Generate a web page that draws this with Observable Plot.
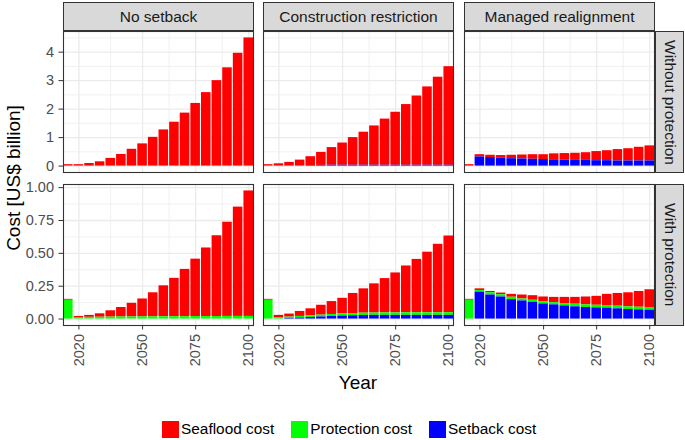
<!DOCTYPE html>
<html>
<head>
<meta charset="utf-8">
<script src="https://cdn.jsdelivr.net/npm/d3@7"></script>
<script src="https://cdn.jsdelivr.net/npm/@observablehq/plot@0.6"></script>
<style>
  html, body { margin: 0; padding: 0; background: #ffffff; }
  #chart { position: relative; width: 685px; height: 440px; overflow: hidden; background: #ffffff;
           font-family: "Liberation Sans", Arial, Helvetica, sans-serif; }
  .strip { position: absolute; box-sizing: border-box; background: #D9D9D9; border: 1px solid #333333;
           color: #1A1A1A; font-size: 15.5px; display: flex; align-items: center; justify-content: center;
           white-space: nowrap; }
  .strip.right span { writing-mode: vertical-rl; }
  .title { position: absolute; font-size: 19px; color: #000; white-space: nowrap; }
  #legend { position: absolute; left: 162px; top: 420px; display: flex; align-items: center; font-size: 15.4px; color: #000; }
  #legend .item { display: flex; align-items: center; margin-right: 17px; }
  #legend .sw { width: 17px; height: 17px; margin-right: 2px; }
  svg { overflow: visible; }
</style>
</head>
<body>
<div id="chart"></div>
<script>
// ---------------- data ----------------
const years = [2015, 2020, 2025, 2030, 2035, 2040, 2045, 2050, 2055, 2060, 2065, 2070, 2075, 2080, 2085, 2090, 2095, 2100];
const strategies = ["No setback", "Construction restriction", "Managed realignment"];
const protectionCases = ["Without protection", "With protection"];
const costTypes = ["Seaflood cost", "Protection cost", "Setback cost"];
const costColors = ["#FF0000", "#00FF00", "#0000FF"];
const stackOrder = ["Setback cost", "Protection cost", "Seaflood cost"];

const xTicks = [2020, 2050, 2075, 2100];
const xMinorGrid = [2035, 2062.5, 2087.5];
const yTicksTop = [0, 1, 2, 3, 4];
const yMinorTop = [0.5, 1.5, 2.5, 3.5, 4.5];
const yTicksBottom = [0, 0.25, 0.5, 0.75, 1];
const yMinorBottom = [0.125, 0.375, 0.625, 0.875];

// Without protection (US$ billion)
const seafloodNoSetbackWithout   = [0.05, 0.05, 0.09, 0.15, 0.27, 0.41, 0.59, 0.78, 1.01, 1.27, 1.54, 1.86, 2.20, 2.58, 3.00, 3.45, 3.96, 4.50];
const seafloodRestrictionWithout = [0.05, 0.08, 0.13, 0.21, 0.31, 0.455, 0.62, 0.78, 0.97, 1.16, 1.38, 1.62, 1.86, 2.13, 2.43, 2.75, 3.09, 3.46];
const setbackRestrictionWithout  = [0, 0, 0, 0, 0.02, 0.025, 0.03, 0.03, 0.03, 0.03, 0.03, 0.03, 0.03, 0.03, 0.03, 0.03, 0.03, 0.03];
const seafloodRealignWithout     = [0.05, 0.08, 0.08, 0.09, 0.12, 0.14, 0.16, 0.17, 0.21, 0.23, 0.25, 0.27, 0.32, 0.35, 0.40, 0.43, 0.48, 0.53];
const setbackRealignWithout      = [0, 0.32, 0.30, 0.28, 0.26, 0.25, 0.24, 0.23, 0.22, 0.21, 0.20, 0.20, 0.19, 0.19, 0.18, 0.18, 0.18, 0.18];

// With protection (US$ billion)
const seafloodNoSetbackWith      = [0.007, 0.008, 0.015, 0.026, 0.048, 0.072, 0.104, 0.136, 0.183, 0.235, 0.292, 0.36, 0.437, 0.522, 0.615, 0.717, 0.832, 0.955];
const protectionNoSetbackWith    = [0.143, 0.012, 0.013, 0.014, 0.015, 0.016, 0.016, 0.017, 0.017, 0.018, 0.018, 0.018, 0.019, 0.019, 0.019, 0.02, 0.02, 0.02];
const seafloodRestrictionWith    = [0.007, 0.017, 0.023, 0.038, 0.053, 0.075, 0.098, 0.119, 0.153, 0.185, 0.222, 0.261, 0.304, 0.356, 0.406, 0.461, 0.521, 0.584];
const protectionRestrictionWith  = [0.143, 0.011, 0.011, 0.012, 0.013, 0.014, 0.015, 0.016, 0.017, 0.018, 0.018, 0.019, 0.019, 0.02, 0.02, 0.02, 0.02, 0.02];
const setbackRestrictionWith     = [0, 0, 0.004, 0.008, 0.012, 0.016, 0.02, 0.023, 0.025, 0.027, 0.028, 0.028, 0.028, 0.028, 0.028, 0.028, 0.028, 0.028];
const seafloodRealignWith        = [0.007, 0.013, 0.01, 0.013, 0.022, 0.03, 0.035, 0.038, 0.04, 0.047, 0.052, 0.06, 0.068, 0.085, 0.097, 0.107, 0.12, 0.135];
const protectionRealignWith      = [0.143, 0.012, 0.017, 0.017, 0.018, 0.015, 0.015, 0.015, 0.017, 0.018, 0.02, 0.02, 0.02, 0.02, 0.02, 0.02, 0.02, 0.02];
const setbackRealignWith         = [0, 0.205, 0.183, 0.168, 0.148, 0.138, 0.128, 0.115, 0.108, 0.10, 0.093, 0.088, 0.085, 0.083, 0.078, 0.073, 0.07, 0.068];

const seriesTable = [
  [strategies[0], protectionCases[0], costTypes[0], seafloodNoSetbackWithout],
  [strategies[1], protectionCases[0], costTypes[0], seafloodRestrictionWithout],
  [strategies[1], protectionCases[0], costTypes[2], setbackRestrictionWithout],
  [strategies[2], protectionCases[0], costTypes[0], seafloodRealignWithout],
  [strategies[2], protectionCases[0], costTypes[2], setbackRealignWithout],
  [strategies[0], protectionCases[1], costTypes[0], seafloodNoSetbackWith],
  [strategies[0], protectionCases[1], costTypes[1], protectionNoSetbackWith],
  [strategies[1], protectionCases[1], costTypes[0], seafloodRestrictionWith],
  [strategies[1], protectionCases[1], costTypes[1], protectionRestrictionWith],
  [strategies[1], protectionCases[1], costTypes[2], setbackRestrictionWith],
  [strategies[2], protectionCases[1], costTypes[0], seafloodRealignWith],
  [strategies[2], protectionCases[1], costTypes[1], protectionRealignWith],
  [strategies[2], protectionCases[1], costTypes[2], setbackRealignWith]
];
const rows = seriesTable.flatMap(([strategy, protection, type, values]) =>
  years.map((year, i) => ({strategy, protection, type, year, value: values[i]})));

// ---------------- layout ----------------
const chart = document.getElementById("chart");
const colLeft = [63, 263, 464];
const rowTop = [31, 184];
const panelW = 190, panelH = 141;
const rowCfg = [
  {domain: [-0.225, 4.725], ticks: yTicksTop, minor: yMinorTop, fmt: d3.format("d")},
  {domain: [-0.049, 1.024], ticks: yTicksBottom, minor: yMinorBottom, fmt: d3.format(".2f")}
];
const font = "'Liberation Sans', Arial, Helvetica, sans-serif";

protectionCases.forEach((prot, r) => {
  strategies.forEach((strat, c) => {
    const cfg = rowCfg[r];
    const showY = c === 0, showX = r === 1;
    const ml = showY ? 63 : 0;
    const mb = showX ? 60 : 1;
    const data = rows.filter(d => d.strategy === strat && d.protection === prot);
    const svg = Plot.plot({
      width: ml + panelW + 1,
      height: panelH + mb,
      marginLeft: ml, marginRight: 1, marginTop: 0, marginBottom: mb,
      style: {fontFamily: font, background: "transparent", overflow: "visible"},
      x: {domain: [2012.75, 2102.25], axis: null},
      y: {domain: cfg.domain, axis: null},
      color: {domain: costTypes, range: costColors},
      marks: [
        Plot.ruleX(xMinorGrid, {stroke: "#EBEBEB", strokeWidth: 0.7}),
        Plot.ruleY(cfg.minor, {stroke: "#EBEBEB", strokeWidth: 0.7}),
        Plot.ruleX(xTicks, {stroke: "#EBEBEB", strokeWidth: 1.3}),
        Plot.ruleY(cfg.ticks, {stroke: "#EBEBEB", strokeWidth: 1.3}),
        Plot.rectY(data, Plot.stackY({
          x1: d => d.year - 2.25,
          x2: d => d.year + 2.25,
          y: "value",
          fill: "type",
          order: stackOrder
        })),
        Plot.frame({stroke: "#333333", strokeWidth: 1.1}),
        showY ? Plot.axisY({ticks: cfg.ticks, tickFormat: cfg.fmt, tickSize: 4.5, tickPadding: 5,
                            fontSize: 14.5, stroke: "#333333", fill: "#4D4D4D", label: null}) : null,
        showX ? Plot.axisX({ticks: xTicks, tickFormat: d3.format("d"), tickSize: 4.5, tickPadding: 4,
                            tickRotate: -90, fontSize: 14.5, stroke: "#333333", fill: "#4D4D4D", label: null}) : null
      ]
    });
    svg.style.position = "absolute";
    svg.style.left = (colLeft[c] - ml) + "px";
    svg.style.top = rowTop[r] + "px";
    chart.appendChild(svg);
  });
});

// top strips
strategies.forEach((s, c) => {
  const d = document.createElement("div");
  d.className = "strip";
  d.style.left = colLeft[c] + "px";
  d.style.top = "2px";
  d.style.width = (panelW + 1) + "px";
  d.style.height = "29px";
  d.textContent = s;
  chart.appendChild(d);
});
// right strips
protectionCases.forEach((p, r) => {
  const d = document.createElement("div");
  d.className = "strip right";
  d.style.left = "655px";
  d.style.top = rowTop[r] + "px";
  d.style.width = "29px";
  d.style.height = (panelH + 1) + "px";
  const sp = document.createElement("span");
  sp.textContent = p;
  d.appendChild(sp);
  chart.appendChild(d);
});

// axis titles
const yt = document.createElement("div");
yt.className = "title";
yt.textContent = "Cost [US$ billion]";
yt.style.left = "14px";
yt.style.top = "178px";
yt.style.transform = "translate(-50%, -50%) rotate(-90deg)";
chart.appendChild(yt);

const xt = document.createElement("div");
xt.className = "title";
xt.textContent = "Year";
xt.style.left = "358px";
xt.style.top = "383px";
xt.style.transform = "translate(-50%, -50%)";
chart.appendChild(xt);

// legend
const legend = document.createElement("div");
legend.id = "legend";
costTypes.forEach((t, i) => {
  const item = document.createElement("div");
  item.className = "item";
  const sw = document.createElement("div");
  sw.className = "sw";
  sw.style.background = costColors[i];
  const lab = document.createElement("span");
  lab.textContent = t;
  item.appendChild(sw);
  item.appendChild(lab);
  legend.appendChild(item);
});
chart.appendChild(legend);
</script>
</body>
</html>
